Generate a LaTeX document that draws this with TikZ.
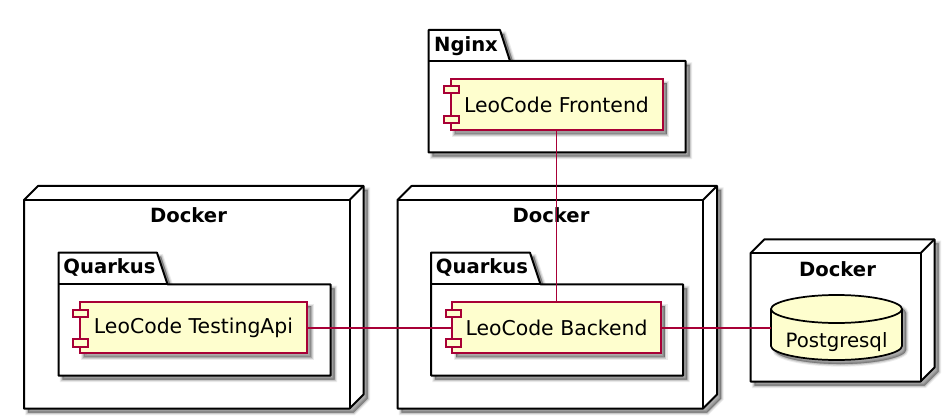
\documentclass[tikz,border=0pt]{standalone}
\usepackage{fontspec}
\setmainfont{DejaVu Sans}
\definecolor{umlred}{HTML}{A80036}
\definecolor{umlfill}{HTML}{FEFECE}
\tikzset{
  softshadow/.style={
    preaction={draw=black,fill=black,draw opacity=.08,fill opacity=.08,line width=4pt,transform canvas={shift={(3pt,-3pt)}}},
    preaction={draw=black,fill=black,draw opacity=.12,fill opacity=.12,line width=2.4pt,transform canvas={shift={(3pt,-3pt)}}},
    preaction={draw=black,fill=black,draw opacity=.16,fill opacity=.16,line width=.8pt,transform canvas={shift={(3pt,-3pt)}}}},
  cont/.style={draw=black,line width=1.5pt,line join=round,fill=white},
  contplain/.style={draw=black,line width=1.5pt,line join=round},
  title/.style={font=\bfseries\fontsize{14.7pt}{17pt}\selectfont,text=black,inner sep=0pt},
  comp/.style={draw=umlred,fill=umlfill,line width=1.5pt,inner sep=0pt,
     font=\fontsize{15.3pt}{18pt}\selectfont,text=black,softshadow},
  port/.style={draw=umlred,fill=umlfill,line width=1.5pt},
  dbshape/.style={draw=black,fill=umlfill,line width=1.3pt},
  dbtext/.style={font=\fontsize{14.8pt}{17pt}\selectfont,text=black,inner sep=0pt},
  link/.style={draw=umlred,line width=1.2pt},
}
\newcommand{\nodebox}[4]{% x1 y1 x2 y2: front face, depth 14
  \path[cont,softshadow] (#1,#4) -- (#1,#2) -- (#1+14,#2-14) -- (#3+14,#2-14) -- (#3+14,#4-14) -- (#3,#4) -- cycle;
  \draw[contplain] (#1,#2) -- (#3,#2) -- (#3,#4);
  \draw[contplain] (#3,#2) -- (#3+14,#2-14);
}
\newcommand{\folder}[7]{% x1 ytab ybody x2 y2 xtab xslant
  \path[cont,softshadow] (#1,#3) -- (#1,#2) -- (#6,#2) -- (#7,#3) -- (#4,#3) -- (#4,#5) -- (#1,#5) -- cycle;
  \draw[contplain] (#1,#3) -- (#7,#3);
}
\newcommand{\ports}[3]{% x, y1, y2
  \draw[port] (#1,#2) rectangle (#1+15.5,#2+7.2);
  \draw[port] (#1,#3) rectangle (#1+15.5,#3+7.2);
}
\begin{document}
\begin{tikzpicture}[x=0.75pt,y=-0.75pt]
\useasboundingbox (0,0) rectangle (952,420);
\fill[white] (0,0) rectangle (952,420);

% Nginx
\folder{428.5}{30}{61}{685.5}{152.5}{500}{510}
\node[title] (tnginx) at (466,46) {Nginx};
\node[comp,minimum width=159pt,minimum height=38.2pt] (fe) at (556.5,104.7) {LeoCode Frontend};
\ports{443.5}{86}{116}

% Docker left
\nodebox{24}{200}{349.5}{408.5}
\node[title] (tdl) at (188.5,215.5) {Docker};
\folder{58.5}{252.7}{284.3}{330.5}{375.5}{157}{167.5}
\node[title] (tql) at (109.5,267.5) {Quarkus};
\node[comp,minimum width=170.5pt,minimum height=38.2pt] (api) at (193.5,327.9) {LeoCode TestingApi};
\ports{72.7}{310}{339.3}

% Docker middle
\nodebox{397.5}{200}{703}{408.5}
\node[title] (tdm) at (551,215.5) {Docker};
\folder{431}{252.7}{284.3}{683}{375.5}{530}{540.5}
\node[title] (tqm) at (482,267.5) {Quarkus};
\node[comp,minimum width=156.5pt,minimum height=38.2pt] (be) at (556.5,327.9) {LeoCode Backend};
\ports{445.5}{310}{339.3}

% Docker right
\nodebox{750.5}{253.3}{920.5}{381.5}
\node[title] (tdr) at (837.5,269) {Docker};
\path[dbshape,softshadow] (771,309) .. controls (771,302) and (800,295) .. (836.5,295) .. controls (873,295) and (902,302) .. (902,309)
   -- (902,346) .. controls (902,353) and (873,360) .. (836.5,360) .. controls (800,360) and (771,353) .. (771,346) -- cycle;
\draw[dbshape,fill=none] (771,309) .. controls (771,316) and (800,323) .. (836.5,323) .. controls (873,323) and (902,316) .. (902,309);
\node[minimum width=98.25pt,minimum height=48.75pt,inner sep=0pt] (db) at (836.5,327.9) {};
\node[dbtext] (dbl) at (836.5,342.5) {Postgresql};

% Connectors
\draw[link] (fe.south) -- (be.north);
\draw[link] (api.east) -- (be.west);
\draw[link] (be.east) -- (db.west);
\end{tikzpicture}
\end{document}
